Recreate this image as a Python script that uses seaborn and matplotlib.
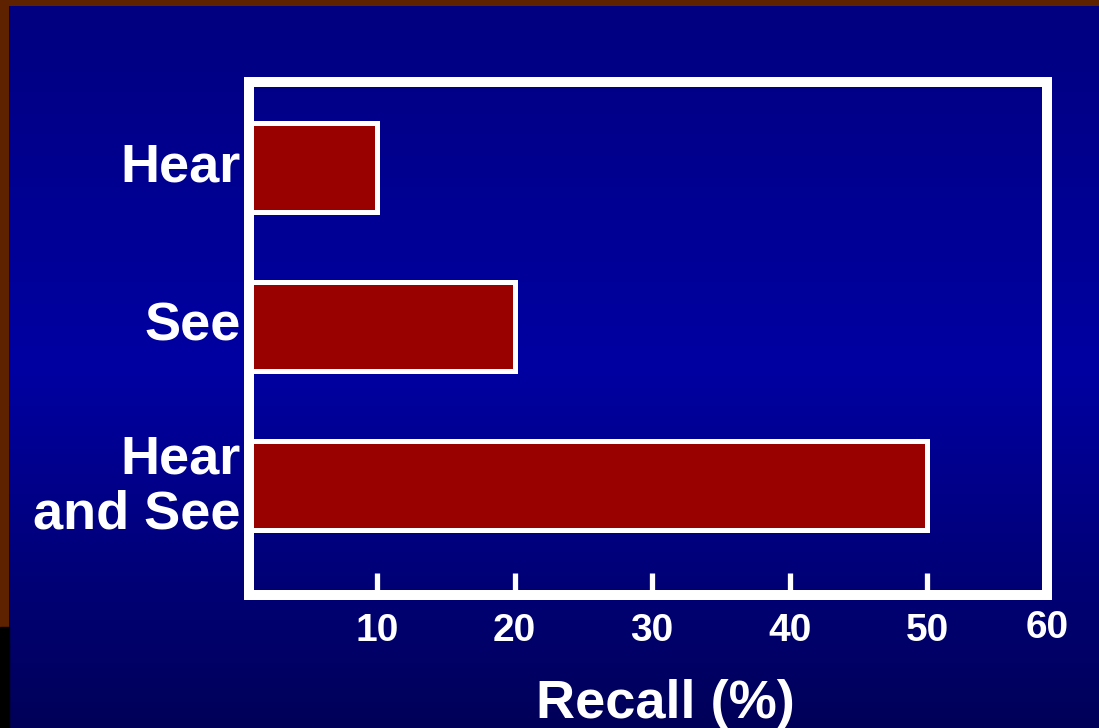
import numpy as np
import pandas as pd
import seaborn as sns
import matplotlib.pyplot as plt
import matplotlib.transforms as mtransforms
from matplotlib.colors import LinearSegmentedColormap
from matplotlib.patches import Rectangle

# data
categories = ['Hear', 'See', 'Hear\nand See']
recall = [10, 20, 50]
tick_vals = [10, 20, 30, 40, 50]
tick_labels = ['10', '20', '30', '40', '50']

df = pd.DataFrame({'mode': categories, 'recall': recall})

sns.set_style('white')
plt.rcParams['font.family'] = ['Liberation Sans', 'DejaVu Sans']

fig = plt.figure(figsize=(10.99, 7.28), dpi=100)
fig.patch.set_facecolor('#5e2200')

# slide background: vertical blue gradient
bg = fig.add_axes([9 / 1099, 0, 1 - 9 / 1099, 1 - 6 / 728])
cmap = LinearSegmentedColormap.from_list('slide', ['#000080', '#0000a2', '#000058'])
grad = np.linspace(0, 1, 256).reshape(-1, 1)
bg.imshow(grad, aspect='auto', cmap=cmap, extent=[0, 1, 0, 1], origin='upper')
bg.set_axis_off()
fig.patches.append(Rectangle((0, 0), 9 / 1099, 1 - 627 / 728, transform=fig.transFigure,
                             color='black', zorder=0))

ax = fig.add_axes([0.2266, 0.1827, 0.7261, 0.7047])
ax.patch.set_alpha(0)
sns.barplot(data=df, y='mode', x='recall', orient='h', color='#990000',
            edgecolor='white', linewidth=3.6, width=0.56, saturation=1, ax=ax)

ax.set_xlim(0.7, 58.7)
ax.set_ylim(2.69, -0.54)
ax.set_xticks(tick_vals)
ax.set_xticklabels(tick_labels)
ax.tick_params(axis='x', bottom=True, direction='in', length=16, width=3.8, color='white',
               labelcolor='white', labelsize=28, pad=13)
ax.tick_params(axis='y', left=False, length=0, labelcolor='white', labelsize=39, pad=6)
# nudge the category labels up a little, like the slide
shift = mtransforms.ScaledTranslation(0, 6 / 100, fig.dpi_scale_trans)
for lab in ax.get_xticklabels() + ax.get_yticklabels():
    lab.set_fontweight('bold')
for lab in ax.get_yticklabels():
    lab.set_linespacing(1.12)
    lab.set_transform(lab.get_transform() + shift)
ax.text(1.0, -0.03, '60', transform=ax.transAxes, ha='center', va='top',
        color='white', fontsize=28, fontweight='bold')

for s in ax.spines.values():
    s.set_visible(True)
    s.set_color('white')
    s.set_linewidth(7.2)

ax.set_ylabel('')
ax.set_xlabel('Recall (%)', color='white', fontsize=39, fontweight='bold')
ax.xaxis.set_label_coords(0.522, -0.163)

fig.savefig('out.png', dpi=100, facecolor=fig.get_facecolor())
